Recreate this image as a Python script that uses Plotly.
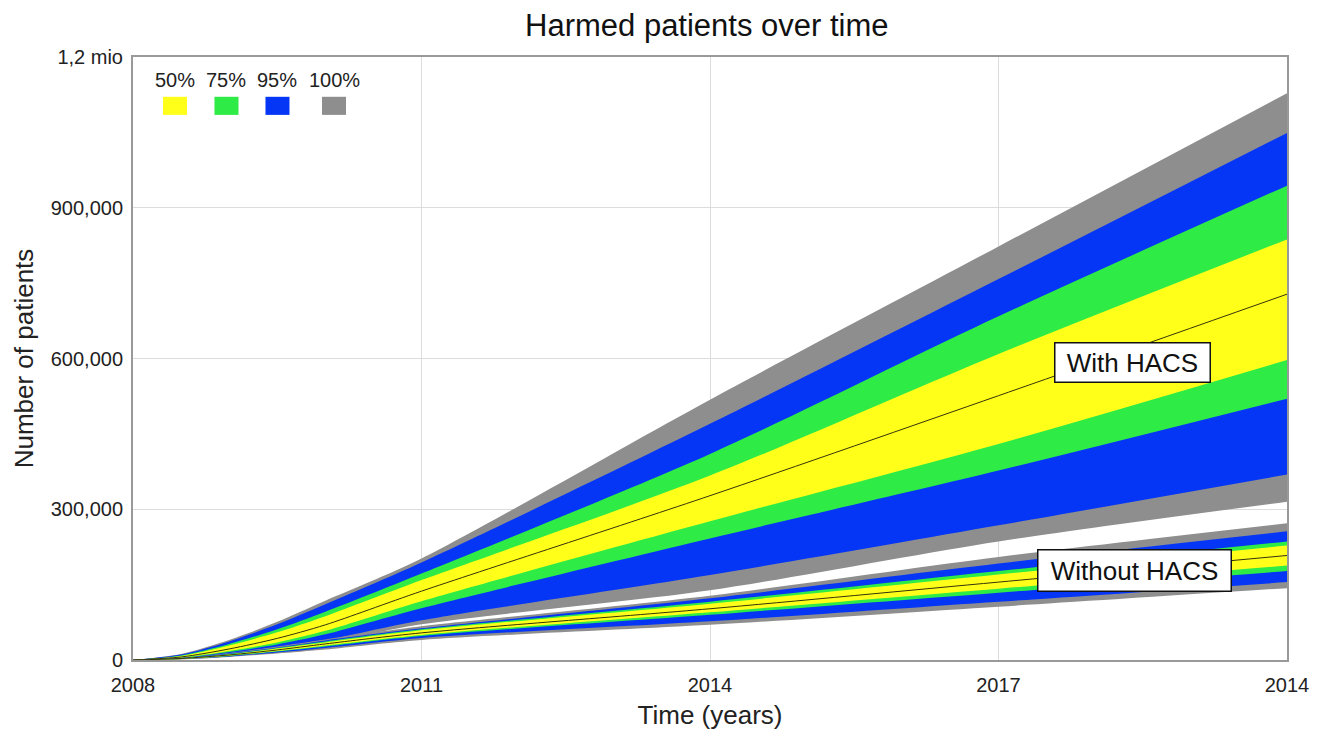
import plotly.graph_objects as go

# ---------------- data (patients) ----------------
years = [2008, 2008.5, 2009, 2009.5, 2010, 2011, 2014, 2017, 2020]

# With HACS percentile bands
with_gray_top    = [0, 12000, 40000, 76000, 118000, 202000, 518000, 823000, 1128000]
with_blue_top    = [0, 11000, 37000, 71000, 111000, 194000, 470000, 758000, 1049000]
with_green_top   = [0,  9000, 32000, 61000,  96000, 172000, 410000, 684000,  944000]
with_yellow_top  = [0,  8000, 29000, 55000,  87000, 159000, 367000, 609000,  837000]
with_median      = [0,  6000, 22000, 43000,  70000, 137000, 327000, 526000,  728000]
with_yellow_bot  = [0,  5000, 18000, 35000,  58000, 117000, 276000, 430000,  597000]
with_green_bot   = [0,  4000, 16000, 31000,  51000, 103000, 242000, 377000,  520000]
with_blue_bot    = [0,  3000, 12000, 23000,  39000,  79000, 169000, 268000,  369000]
with_gray_bot    = [0,  2000, 10000, 20000,  34000,  71000, 139000, 236000,  315000]

# Without HACS percentile bands
without_gray_top   = [0, 4000, 14000, 27000, 41000, 67000, 128000, 205000, 272000]
without_blue_top   = [0, 4000, 13000, 25000, 39000, 63000, 123000, 192000, 256000]
without_green_top  = [0, 3000, 12000, 24000, 37000, 61000, 116000, 177000, 236000]
without_yellow_top = [0, 3000, 11000, 23000, 35000, 59000, 112000, 170000, 228000]
without_median     = [0, 3000, 10000, 20000, 32000, 54000, 102000, 155000, 208000]
without_yellow_bot = [0, 2000,  9000, 18000, 29000, 50000,  95000, 142000, 188000]
without_green_bot  = [0, 2000,  8000, 17000, 27000, 48000,  90000, 134000, 177000]
without_blue_bot   = [0, 2000,  7000, 15000, 24000, 44000,  77000, 116000, 155000]
without_gray_bot   = [0, 1000,  6000, 13000, 21000, 40000,  70000, 106000, 143000]

x_tickvals = [2008, 2011, 2014, 2017, 2020]
x_ticktext = ["2008", "2011", "2014", "2017", "2014"]
y_tickvals = [0, 300000, 600000, 900000, 1200000]
y_ticktext = ["0", "300,000", "600,000", "900,000", "1,2 mio"]

legend_labels = ["50%", "75%", "95%", "100%"]

# ---------------- styles ----------------
C_YELLOW = "#FFFF1A"
C_GREEN = "#2EEB46"
C_BLUE = "#0536F5"
C_GRAY = "#8E8E8E"
FONT = "Arial, Liberation Sans, sans-serif"

fig = go.Figure()


def band(upper, lower, color):
    fig.add_trace(go.Scatter(x=years, y=lower, mode="lines",
                             line=dict(width=0, color=color, shape="spline", smoothing=0.8),
                             hoverinfo="skip", showlegend=False))
    fig.add_trace(go.Scatter(x=years, y=upper, mode="lines", fill="tonexty",
                             fillcolor=color,
                             line=dict(width=0, color=color, shape="spline", smoothing=0.8),
                             hoverinfo="skip", showlegend=False))


for grp in [
    (with_gray_top, with_gray_bot, with_blue_top, with_blue_bot, with_green_top,
     with_green_bot, with_yellow_top, with_yellow_bot, with_median),
    (without_gray_top, without_gray_bot, without_blue_top, without_blue_bot,
     without_green_top, without_green_bot, without_yellow_top, without_yellow_bot,
     without_median),
]:
    gt, gb, bt, bb, grt, grb, yt, yb, med = grp
    band(gt, gb, C_GRAY)
    band(bt, bb, C_BLUE)
    band(grt, grb, C_GREEN)
    band(yt, yb, C_YELLOW)
    fig.add_trace(go.Scatter(x=years, y=med, mode="lines",
                             line=dict(color="#33330a", width=1, shape="spline", smoothing=0.8),
                             hoverinfo="skip", showlegend=False))

# Labels for the two scenarios
fig.add_annotation(x=2018.39, y=593000, text="&nbsp;With HACS&nbsp;", showarrow=False,
                   font=dict(family=FONT, size=26, color="#111"),
                   bgcolor="white", bordercolor="#111", borderwidth=1.5, borderpad=4)
fig.add_annotation(x=2018.41, y=179000, text="&nbsp;Without HACS&nbsp;", showarrow=False,
                   font=dict(family=FONT, size=26, color="#111"),
                   bgcolor="white", bordercolor="#111", borderwidth=1.5, borderpad=5)

# Custom legend (labels above colour squares), in paper coords
leg_colors = [C_YELLOW, C_GREEN, C_BLUE, C_GRAY]
leg_x = [0.0364, 0.0810, 0.1252, 0.1742]
for lab, col, lx in zip(legend_labels, leg_colors, leg_x):
    fig.add_annotation(xref="paper", yref="paper", x=lx, y=0.962, text=lab,
                       showarrow=False, font=dict(family=FONT, size=20, color="#222"),
                       xanchor="center", yanchor="middle")
    fig.add_shape(type="rect", xref="paper", yref="paper",
                  x0=lx - 0.0104, x1=lx + 0.0104, y0=0.904, y1=0.934,
                  fillcolor=col, line=dict(width=0))

fig.update_layout(
    width=1316, height=729,
    margin=dict(l=125, r=37, t=49, b=75),
    paper_bgcolor="white", plot_bgcolor="white",
    font=dict(family=FONT, size=20, color="#222"),
    title=dict(text="Harmed patients over time", x=0.531, xanchor="center",
               y=0.976, yanchor="middle", font=dict(family=FONT, size=31, color="#111")),
    showlegend=False,
)
fig.update_xaxes(range=[2008, 2020], tickvals=x_tickvals, ticktext=x_ticktext,
                 showgrid=True, gridcolor="#dcdcdc", gridwidth=1,
                 showline=True, linecolor="#999999", linewidth=2, mirror=True,
                 ticks="", ticklabelstandoff=6, tickfont=dict(size=20, color="#222"),
                 title=dict(text="Time (years)", font=dict(size=26, color="#222"), standoff=11),
                 zeroline=False)
fig.update_yaxes(range=[0, 1200000], tickvals=y_tickvals, ticktext=y_ticktext,
                 showgrid=True, gridcolor="#dcdcdc", gridwidth=1,
                 showline=True, linecolor="#999999", linewidth=2, mirror=True,
                 ticks="", ticklabelstandoff=4, tickfont=dict(size=20, color="#222"),
                 title=dict(text="Number of patients", font=dict(size=26, color="#222"), standoff=10),
                 zeroline=False)

fig.write_html("out.html")
